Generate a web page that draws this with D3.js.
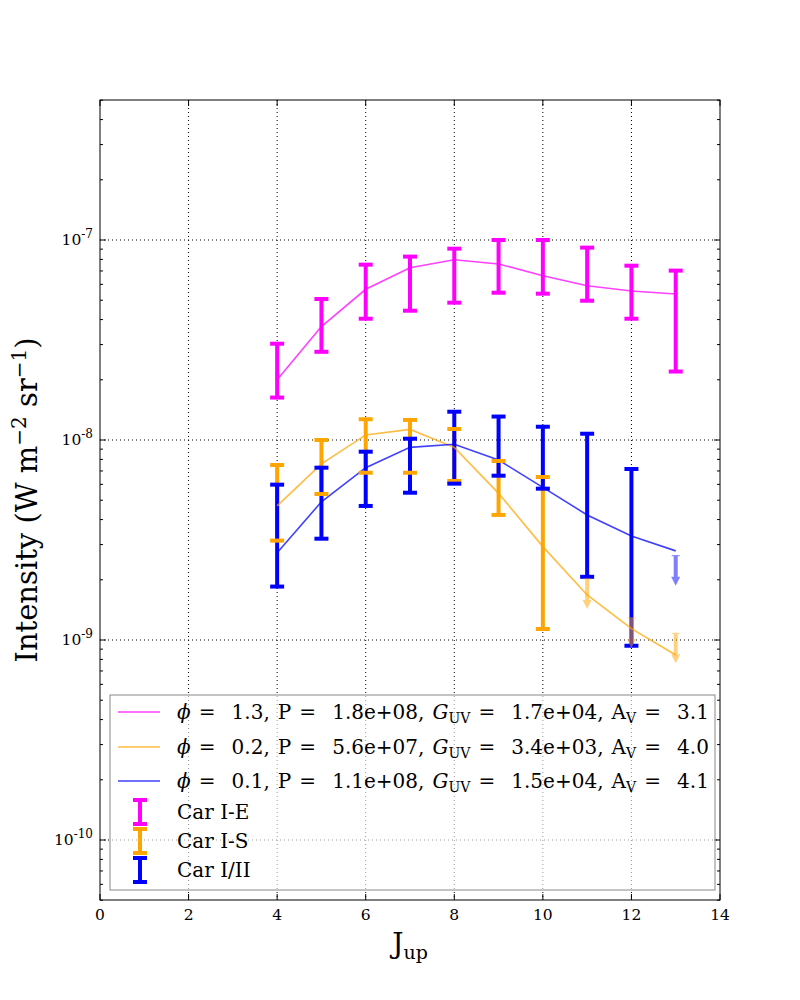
<!DOCTYPE html>
<html><head><meta charset="utf-8">
<script src="https://cdn.jsdelivr.net/npm/d3@7"></script>
<style>body{margin:0;background:#fff} text{white-space:pre}</style>
</head><body>
<script>
// ---- data ----
const jup = [4,5,6,7,8,9,10,11,12,13];
const modelE  = [2.0e-8,3.69e-8,5.67e-8,7.27e-8,7.97e-8,7.59e-8,6.63e-8,5.91e-8,5.56e-8,5.37e-8];
const modelS  = [4.68e-9,7.59e-9,1.06e-8,1.13e-8,9.19e-9,5.41e-9,2.93e-9,1.68e-9,1.14e-9,8.41e-10];
const modelII = [2.73e-9,4.91e-9,7.27e-9,9.19e-9,9.52e-9,7.94e-9,5.80e-9,4.22e-9,3.31e-9,2.79e-9];

const obsE_x  = [4,5,6,7,8,9,10,11,12,13];
const obsE_hi = [3.03e-8,5.07e-8,7.53e-8,8.26e-8,9.05e-8,1.0e-7,1.0e-7,9.16e-8,7.44e-8,7.03e-8];
const obsE_lo = [1.63e-8,2.76e-8,4.04e-8,4.43e-8,4.86e-8,5.45e-8,5.39e-8,4.97e-8,4.04e-8,2.2e-8];

const obsS_x  = [4,5,6,7,8,9,10];
const obsS_hi = [7.50e-9,1.0e-8,1.27e-8,1.26e-8,1.135e-8,7.85e-9,6.53e-9];
const obsS_lo = [3.14e-9,5.37e-9,6.86e-9,6.86e-9,6.24e-9,4.22e-9,1.135e-9];
const limS_x  = [11,12,13];
const limS    = [2.02e-9,1.29e-9,1.08e-9];

const obsII_x  = [4,5,6,7,8,9,10,11,12];
const obsII_hi = [5.98e-9,7.27e-9,8.74e-9,1.015e-8,1.385e-8,1.31e-8,1.165e-8,1.075e-8,7.16e-9];
const obsII_lo = [1.85e-9,3.21e-9,4.68e-9,5.45e-9,6.05e-9,6.63e-9,5.71e-9,2.07e-9,9.36e-10];
const limII_x  = [13];
const limII    = [2.64e-9];

const xTicks = [0,2,4,6,8,10,12,14];
const yDecades = [-10,-9,-8,-7];
const modelLabels = [
  {phi:"1.3", P:"1.8e+08", G:"1.7e+04", A:"3.1"},
  {phi:"0.2", P:"5.6e+07", G:"3.4e+03", A:"4.0"},
  {phi:"0.1", P:"1.1e+08", G:"1.5e+04", A:"4.1"}
];
const obsLabels = ["Car I-E","Car I-S","Car I/II"];

// ---- styles ----
const cE="#ff00ff", cS="#ffa500", cII="#0000ff";
const W=800,H=1000, L=100,R=720,T=100,B=900;
const font="DejaVu Serif";

const svg=d3.select("body").append("svg").attr("width",W).attr("height",H)
  .style("font-family",font);
svg.append("rect").attr("width",W).attr("height",H).attr("fill","#fff");

const x=d3.scaleLinear().domain([0,14]).range([L,R]);
const y=d3.scaleLog().domain([Math.pow(10,-10.3),Math.pow(10,-6.3)]).range([B,T]);

svg.append("clipPath").attr("id","clip").append("rect")
  .attr("x",L).attr("y",T).attr("width",R-L).attr("height",B-T);

// grid
const grid=svg.append("g").attr("stroke","#000").attr("stroke-width",1).attr("stroke-dasharray","1,3");
xTicks.slice(1,-1).forEach(t=>grid.append("line").attr("x1",x(t)).attr("x2",x(t)).attr("y1",T).attr("y2",B));
yDecades.forEach(d=>grid.append("line").attr("x1",L).attr("x2",R).attr("y1",y(Math.pow(10,d))).attr("y2",y(Math.pow(10,d))));

const plot=svg.append("g").attr("clip-path","url(#clip)");

// bars
function bars(xs,lo,hi,col){
  const g=plot.append("g");
  xs.forEach((xv,i)=>g.append("line").attr("x1",x(xv)).attr("x2",x(xv))
    .attr("y1",y(lo[i])).attr("y2",y(hi[i])).attr("stroke",col).attr("stroke-width",4));
}
bars(obsE_x,obsE_lo,obsE_hi,cE);
bars(obsS_x,obsS_lo,obsS_hi,cS);
bars(obsII_x,obsII_lo,obsII_hi,cII);

// model lines
const line=d3.line().x(d=>x(d[0])).y(d=>y(d[1]));
[[modelE,cE],[modelS,cS],[modelII,cII]].forEach(([m,c])=>{
  plot.append("path").attr("d",line(jup.map((j,i)=>[j,m[i]]))).attr("fill","none")
    .attr("stroke",c).attr("stroke-width",1.6).attr("stroke-opacity",0.75);
});

// caps
function caps(xs,lo,hi,col){
  const g=plot.append("g");
  xs.forEach((xv,i)=>[lo[i],hi[i]].forEach(v=>g.append("line")
    .attr("x1",x(xv)-7).attr("x2",x(xv)+7).attr("y1",y(v)).attr("y2",y(v))
    .attr("stroke",col).attr("stroke-width",4)));
}
caps(obsE_x,obsE_lo,obsE_hi,cE);
caps(obsS_x,obsS_lo,obsS_hi,cS);
caps(obsII_x,obsII_lo,obsII_hi,cII);

// upper limits
function limits(xs,vs,col){
  xs.forEach((xv,i)=>{
    const g=plot.append("g").attr("opacity",0.5);
    const px=x(xv), py=y(vs[i]);
    g.append("line").attr("x1",px-4).attr("x2",px+4).attr("y1",py).attr("y2",py).attr("stroke",col).attr("stroke-width",1);
    g.append("line").attr("x1",px).attr("x2",px).attr("y1",py).attr("y2",py+23).attr("stroke",col).attr("stroke-width",4);
    g.append("path").attr("d",`M${px-4.5},${py+21}L${px+4.5},${py+21}L${px},${py+30}Z`).attr("fill",col);
  });
}
limits(limS_x,limS,cS);
limits(limII_x,limII,cII);

// axes frame
svg.append("rect").attr("x",L).attr("y",T).attr("width",R-L).attr("height",B-T)
  .attr("fill","none").attr("stroke","#000").attr("stroke-width",1);

// ticks
const tk=svg.append("g").attr("stroke","#000").attr("stroke-width",1);
xTicks.forEach(t=>{
  tk.append("line").attr("x1",x(t)).attr("x2",x(t)).attr("y1",B).attr("y2",B-6);
  tk.append("line").attr("x1",x(t)).attr("x2",x(t)).attr("y1",T).attr("y2",T+6);
  svg.append("text").attr("x",x(t)).attr("y",B+20).attr("text-anchor","middle")
    .attr("font-size",15.5).text(t);
});
for(let d=-11; d<=-7; d++){
  for(let m=1;m<10;m++){
    const v=m*Math.pow(10,d);
    const py=y(v);
    if(py<T-0.5||py>B+0.5) continue;
    const len=m===1?6:3;
    tk.append("line").attr("x1",L).attr("x2",L+len).attr("y1",py).attr("y2",py);
    tk.append("line").attr("x1",R).attr("x2",R-len).attr("y1",py).attr("y2",py);
  }
}
yDecades.forEach(d=>{
  const t=svg.append("text").attr("x",L-7).attr("y",y(Math.pow(10,d))+5).attr("text-anchor","end").attr("font-size",15.5);
  t.append("tspan").text("10");
  t.append("tspan").attr("dy",-7).attr("font-size",12).text("-"+(-d));
});

// axis labels
const yl=svg.append("text").attr("transform",`translate(37,${(T+B)/2}) rotate(-90)`)
  .attr("text-anchor","middle").attr("font-size",29);
yl.append("tspan").text("Intensity (W m");
yl.append("tspan").attr("dy",-11).attr("font-size",20).text("\u22122");
yl.append("tspan").attr("dy",11).text(" sr");
yl.append("tspan").attr("dy",-11).attr("font-size",20).text("\u22121");
yl.append("tspan").attr("dy",11).text(")");

const xl=svg.append("text").attr("x",410).attr("y",953).attr("text-anchor","middle").attr("font-size",28);
xl.append("tspan").text("J");
xl.append("tspan").attr("dy",6).attr("font-size",19).text("up");

// legend
const lg=svg.append("g");
lg.append("rect").attr("x",110).attr("y",695).attr("width",605).attr("height",195)
  .attr("fill","#fff").attr("fill-opacity",0.6).attr("stroke","#888").attr("stroke-width",1);
const rowY=[712,747,781];
const mcols=[cE,cS,cII];
modelLabels.forEach((lab,i)=>{
  lg.append("line").attr("x1",118).attr("x2",160).attr("y1",rowY[i]).attr("y2",rowY[i])
    .attr("stroke",mcols[i]).attr("stroke-width",1.6).attr("stroke-opacity",0.75);
  const t=lg.append("text").attr("x",177).attr("y",rowY[i]+7).attr("font-size",20).style("word-spacing","1.7px");
  t.append("tspan").attr("font-style","italic").text("\u03d5");
  t.append("tspan").text(" =  "+lab.phi+", P =  "+lab.P+", ");
  t.append("tspan").attr("font-style","italic").text("G");
  t.append("tspan").attr("font-size",14).attr("dy",4).text("UV");
  t.append("tspan").attr("dy",-4).text(" =  "+lab.G+", A");
  t.append("tspan").attr("font-size",14).attr("dy",4).text("V");
  t.append("tspan").attr("dy",-4).text(" =  "+lab.A);
});
const oY=[812,841,870];
obsLabels.forEach((lab,i)=>{
  const c=mcols[i];
  lg.append("line").attr("x1",140).attr("x2",140).attr("y1",oY[i]-12).attr("y2",oY[i]+12).attr("stroke",c).attr("stroke-width",4);
  [-12,12].forEach(o=>lg.append("line").attr("x1",133).attr("x2",147).attr("y1",oY[i]+o).attr("y2",oY[i]+o).attr("stroke",c).attr("stroke-width",4));
  lg.append("text").attr("x",177).attr("y",oY[i]+7).attr("font-size",20).text(lab);
});
</script>
</body></html>
